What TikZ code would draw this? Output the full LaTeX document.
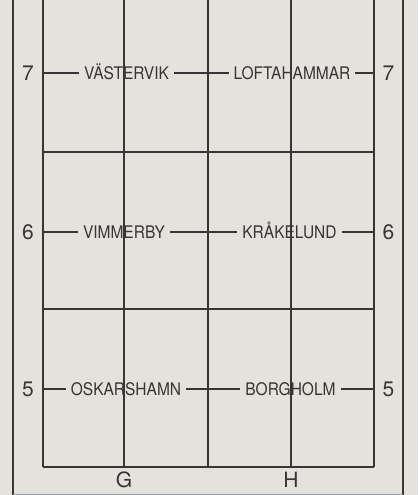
\documentclass[tikz,border=0pt]{standalone}
\usepackage{fontspec}
\setmainfont{TeX Gyre Heros}
\definecolor{paper}{RGB}{228,226,221}
\definecolor{ink}{RGB}{55,53,53}
\newcommand{\tallname}[1]{\scalebox{1}[1.12]{#1}}
\begin{document}
\begin{tikzpicture}[x=1pt,y=-1pt,
  gridline/.style={draw=ink,line width=1.5pt},
  rowline/.style={draw=ink,line width=1.2pt},
  place/.style={fill=paper,text=ink,inner xsep=5pt,inner ysep=0pt,
    font=\fontsize{15.5}{18}\selectfont,text height=12.4pt,text depth=0pt},
  coord/.style={text=ink,inner sep=0pt,
    font=\fontsize{21}{24}\selectfont,text height=15.1pt,text depth=0pt}]
\fill[paper] (0,0) rectangle (418,495);
\useasboundingbox (0,0) rectangle (418,495);
% outer frame
\draw[gridline] (13,0) -- (13,495);
\draw[gridline] (403,0) -- (403,495);
\draw[draw=ink!50,line width=1pt] (13,494) -- (403,494);
% label rows
\foreach \yy in {73,232,389} \draw[rowline] (43,\yy) -- (374,\yy);
\node[place] (vastervik) at (126.5,73) {\tallname{VÄSTERVIK}};
\node[place] (loftahammar) at (292,73) {\tallname{LOFTAHAMMAR}};
\node[place] (vimmerby) at (124,232) {\tallname{VIMMERBY}};
\node[place] (krakelund) at (289.5,232) {\tallname{KRÅKELUND}};
\node[place] (oskarshamn) at (126,389) {\tallname{OSKARSHAMN}};
\node[place] (borgholm) at (290.5,389) {\tallname{BORGHOLM}};
% inner grid
\foreach \xx in {43,124,208,291,374} \draw[gridline] (\xx,0) -- (\xx,467);
\foreach \yy in {152,309,467} \draw[gridline] (43,\yy) -- (374,\yy);
% coordinates
\node[coord] (l7) at (28,73) {7};
\node[coord] (r7) at (388.5,73) {7};
\node[coord] (l6) at (28,232) {6};
\node[coord] (r6) at (388.5,232) {6};
\node[coord] (l5) at (28,389) {5};
\node[coord] (r5) at (388.5,389) {5};
\node[coord] (g) at (124,480) {G};
\node[coord] (h) at (291,480) {H};
\end{tikzpicture}
\end{document}
